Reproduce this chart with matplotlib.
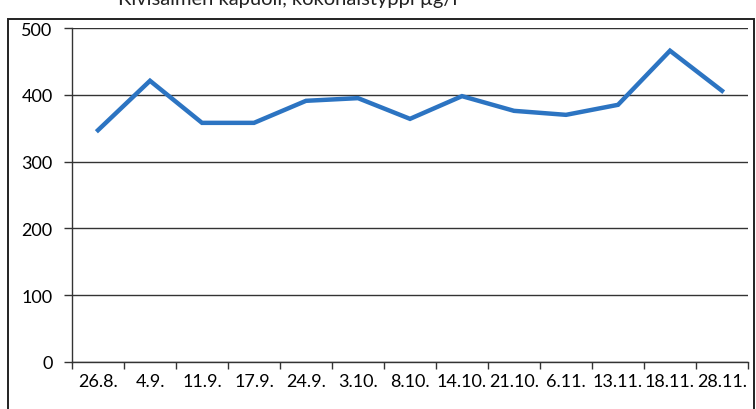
import numpy as np
import matplotlib.pyplot as plt
from matplotlib.patches import Rectangle

plt.rcParams['font.family'] = ['Lato', 'DejaVu Sans']

dates = ['26.8.', '4.9.', '11.9.', '17.9.', '24.9.', '3.10.', '8.10.',
         '14.10.', '21.10.', '6.11.', '13.11.', '18.11.', '28.11.']
values = [347, 421, 358, 358, 391, 395, 364, 398, 376, 370, 385, 466, 406]
title = 'Kivisalmen kapuoli, kokonaistyppi µg/l'

fig = plt.figure(figsize=(7.56, 4.10), dpi=100)
ax = fig.add_axes([72/756, 1-363/410, 676/756, 334/410])

x = np.arange(len(dates))
ax.plot(x, values, color='#2c74c2', lw=3.2, solid_joinstyle='miter')

ax.set_xlim(-0.5, len(dates)-0.5)
ax.set_ylim(0, 500)
ax.set_yticks(np.arange(0, 501, 100))
ax.set_xticks(x)
ax.set_xticklabels(dates, fontsize=13)
ax.set_xticks(np.arange(-0.5, len(dates), 1), minor=True)
ax.tick_params(axis='x', which='major', length=0, pad=8)
ax.tick_params(axis='x', which='minor', length=5, width=1, color='#333333', direction='out')
ax.tick_params(axis='y', length=6, width=1, color='#333333', labelsize=13, pad=8)
ax.grid(axis='y', color='#333333', lw=1)
for s in ['top', 'right']:
    ax.spines[s].set_visible(False)
for s in ['left', 'bottom']:
    ax.spines[s].set_color('#333333')
    ax.spines[s].set_linewidth(1)

# outer chart frame
fig.patches.append(Rectangle((8/756, -0.2), 746/756, 1.2-20/410, transform=fig.transFigure,
                             fill=False, edgecolor='#222222', lw=1.4, clip_on=False))
fig.text(288/756, 1.0, title, ha='center', va='center', fontsize=14.5, color='#222222')

fig.savefig('out.png', dpi=100)
